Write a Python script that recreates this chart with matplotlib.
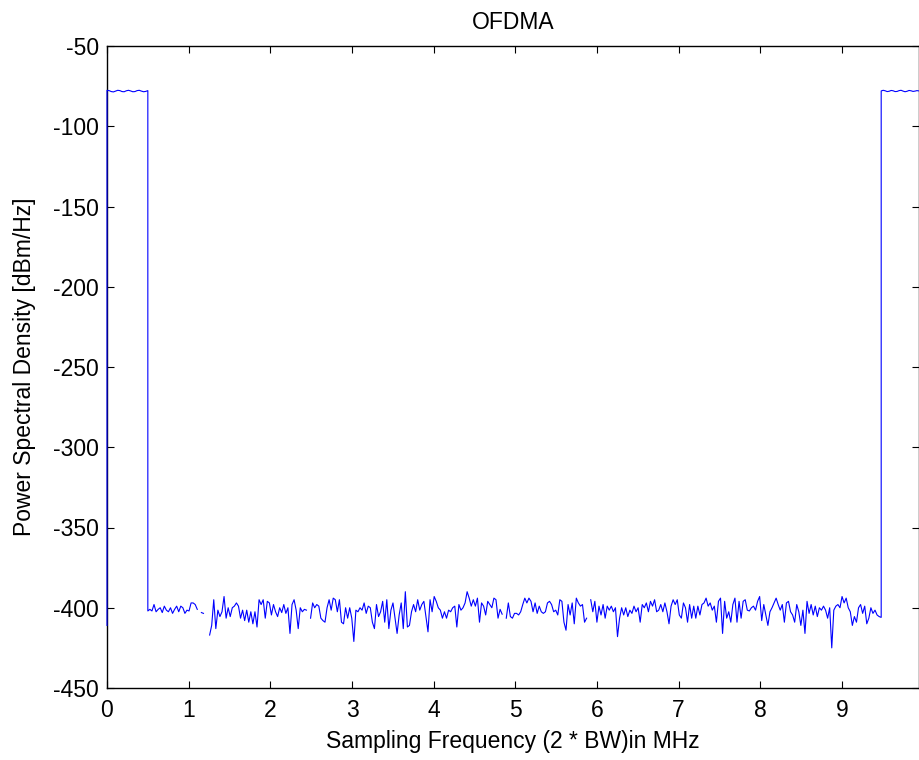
import numpy as np
import matplotlib
matplotlib.use("Agg")
import matplotlib.pyplot as plt

plt.rcParams['font.family'] = ['Liberation Sans', 'DejaVu Sans']

# ---- data (dBm/Hz) ----
band_lo_edge = 0.5     # MHz
band_hi_edge = 9.48    # MHz
f_max = 9.943          # MHz

dc_value = -411
pass_lo = [-77.6, -77.8, -78.4, -78.6, -78.1, -77.6, -77.8, -78.4, -78.5,
           -77.9, -77.6, -78.0, -78.5, -78.4, -77.8, -77.6, -78.1, -78.5, -78.3, -77.8]

nan = np.nan
noise = [
    -402, -401, -402, -398, -402.5, -401, -400, -403, -399, -401.5, -402.5,
    -400, -403.5, -401, -399, -402.5, -399, -400, -403.5, -401.5, -402,
    -397, -397, -398, -401, nan, -403, -403.5, nan, nan,
    -417, -411, -395, -413, -401.5, -405.5, -402.5, -393, -406.5, -400, -405.5,
    -400, -399, -397, -399, -406.5, -401.5, -408, -401.5, -409, -402.5, -410,
    -402.5, -412, -395, -398, -395, -406.5, -396, -397, -404.5, -398, -402.5,
    -405.5, -400, -403, -398, -403.5, -400, -416, -398, -395, -401.5, -413, -400,
    -402.5, -401, -401.5, nan, -406.5, -397, -400, -398, -399, -406.5,
    # 2.7 - 5.1 MHz
    -408, -409, -400, -395, -401.5, -394, -395, -402.5, -395, -409, -410, -400,
    -406.5, -400, -406.5, -421, -401.5, -402.5, -400, -401.5, -397, -403.5, -399,
    -400, -409, -413, -398, -405.5, -402.5, -396, -409, -395, -413, -401.5, -397,
    -406.5, -416, -404.5, -397, -413, -390, -412, -411, -402.5, -398, -402.5,
    -395, -401.5, -398, -396, -405.5, -415, -395, -402.5, -393, -396, -400,
    -401.5, -406.5, -402.5, -406.5, -401.5, -402.5, -400, -399, -412, -398,
    -401.5, -400, -397, -390, -394, -399, -395, -399, -394, -409, -397, -399,
    -404.5, -396, -398, -400, -394, -395, -406.5, -401, -404, nan, -406.5, -397,
    -405.5, -406.5, -403.5, -403.5,
    # 5.1 - 7.4 MHz
    -404.5, -402.5, -398, -394, -397, -394, -396, -402.5, -397, -403.5, -399,
    -402.5, -403.5, -402.5, -397, -396, -398, -402.5, -401.5, -404.5, -395,
    -396, -409, -414, -398, -404.5, -397, -410, -394, -397, -399, -398, -409,
    -406.5, nan, -395, -402.5, -396, -409, -399, -404.5, -398, -406.5, -399,
    -401.5, -399, -402.5, -400, -418, -406.5, -400, -404.5, -400, -405.5,
    -401.5, -403.5, -399, -402.5, -400, -409, -398, -400, -397, -402.5, -396,
    -399, -395, -402.5, -401.5, -398, -402.5, -397, -402.5, -410, -399, -395,
    -398, -395, -404.5, -406.5, -397, -400, -409, -398, -406.5, -399, -406.5,
    -399, -404.5, -398, -397, -394, -399, -397, -401.5,
    # 7.4 - 9.48 MHz
    -399, -409, -396, -394, -416, -396, -406.5, -402.5, -409, -398,
    -394, -409, -396, -406.5, -396, -395, -401.5, -402, -400,
    -399, -401.5, -396, -393, -408, -398, -404.5, -411, -402.5, -400,
    -397, -394, -398, -401.5, -398, -409, -397, -396, -402.5, -404.5, -409,
    -398, -402.5, -411, -401.5, -416, -396, -403.5, -398, -404.5, -399, -405.5,
    -400, -401.5, -399, -401.5, -406.5, -400, -425, -401.5, -399, -398, -400,
    -393, -397, -394, -400, -402.5, -411, -405.5, -409, -400,
    -398, -403.5, -399, -410, -406.5, -400, -403.5, -401.5, -404.5,
    -405.5, -406,
]

pass_hi = [-78.0, -77.6, -77.9, -78.4, -78.2, -77.7, -77.9, -78.4, -78.3, -77.8,
           -77.6, -78.1, -78.5, -78.2, -77.7, -77.9, -78.3, -78.1, -77.8, -78.0]

xticks = [0, 1, 2, 3, 4, 5, 6, 7, 8, 9]
yticks = [-450, -400, -350, -300, -250, -200, -150, -100, -50]

# ---- frequency grid ----
f_lo = np.linspace(0, band_lo_edge, len(pass_lo))
f_noise = np.linspace(band_lo_edge, band_hi_edge, len(noise))
f_hi = np.linspace(band_hi_edge, f_max, len(pass_hi))
freq = np.concatenate([[0.0], f_lo, f_noise, f_hi])
psd = np.concatenate([[dc_value], pass_lo, noise, pass_hi])

fig = plt.figure(figsize=(9.2, 7.6), dpi=100)
ax = fig.add_axes([107/920, 72/760, 812/920, 642/760])
ax.plot(freq, psd, color=(0, 0, 1), linewidth=0.8, zorder=3, clip_on=False)

ax.set_xlim(0, f_max)
ax.set_ylim(-450, -50)
ax.set_xticks(xticks)
ax.set_yticks(yticks)
ax.set_xticklabels([str(v) for v in xticks])
ax.set_yticklabels([str(v) for v in yticks])
ax.tick_params(direction='in', length=5, width=0.8, top=True, right=True,
               labelsize=16.5, colors='black')
ax.tick_params(axis='x', pad=8)
ax.tick_params(axis='y', pad=6)
for s in ax.spines.values():
    s.set_linewidth(1.0)
    s.set_color('black')

ax.set_title('OFDMA', fontsize=16.5, pad=12)
ax.set_xlabel('Sampling Frequency (2 * BW)in MHz', fontsize=16.5, labelpad=6)
ax.set_ylabel('Power Spectral Density [dBm/Hz]', fontsize=16.5, labelpad=12)

fig.savefig('out.png', dpi=100)
